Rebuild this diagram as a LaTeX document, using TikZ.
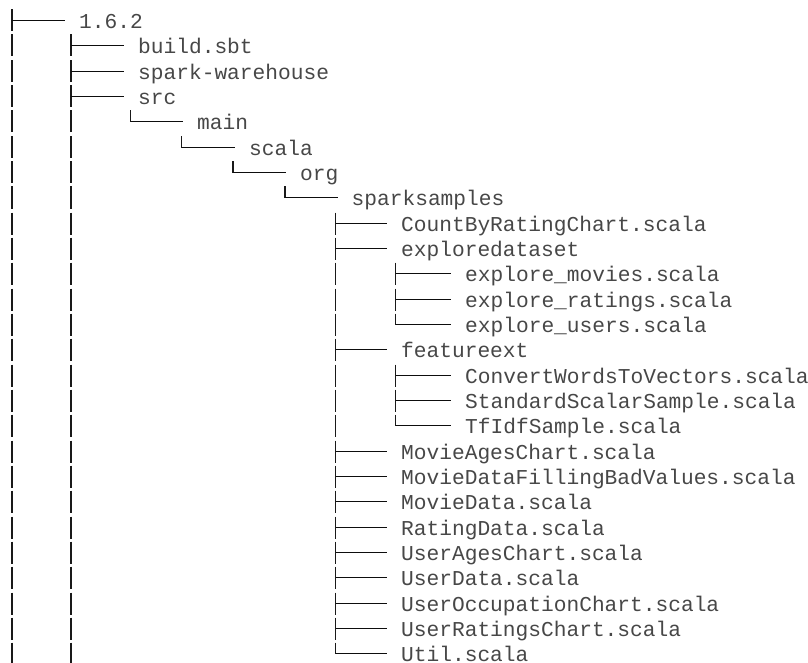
\documentclass[tikz,border=0pt]{standalone}
\usepackage{fontspec}
\newfontfamily\treefont{Liberation Mono}
\begin{document}
\begin{tikzpicture}[x=1pt,y=-1pt]
\tikzset{
  vl/.style={line width=1.8pt, draw=black!90},
  hl/.style={line width=1.6pt, draw=black!95},
  lbl/.style={anchor=base west, inner sep=0pt, text=black!72,
              font=\treefont\fontsize{21.2}{25}\selectfont},
}
\useasboundingbox (0,0) rectangle (808,663);
% continuing vertical bars (one glyph segment per row)
\foreach \k in {1,...,25}{
  \pgfmathsetmacro\yk{round(20+25.34*\k)+0.5}
  \draw[vl] (12,\yk-11) -- (12,\yk+11);
}
\foreach \k in {4,...,25}{
  \pgfmathsetmacro\yk{round(20+25.34*\k)+0.5}
  \draw[vl] (71,\yk-11) -- (71,\yk+11);
}
\foreach \k in {10,11,12,14,15,16}{
  \pgfmathsetmacro\yk{round(20+25.34*\k)+0.5}
  \draw[vl] (335.5,\yk-11) -- (335.5,\yk+11);
}
% rows: index / branch x / kind (t = tee, l = last) / text x / text
\foreach \k/\bx/\kind/\tx/\txt in {
  0/12/t/79/1.6.2,
  1/71/t/138/build.sbt,
  2/71/t/138/spark-warehouse,
  3/71/t/138/src,
  4/130.5/l/197/main,
  5/181.5/l/249/scala,
  6/233.3/l/300/org,
  7/285/l/351.5/sparksamples,
  8/335.5/t/401/CountByRatingChart.scala,
  9/335.5/t/401/exploredataset,
  10/395.5/t/465/explore\_movies.scala,
  11/395.5/t/465/explore\_ratings.scala,
  12/395.5/l/465/explore\_users.scala,
  13/335.5/t/401/featureext,
  14/395.5/t/465/ConvertWordsToVectors.scala,
  15/395.5/t/465/StandardScalarSample.scala,
  16/395.5/l/465/TfIdfSample.scala,
  17/335.5/t/401/MovieAgesChart.scala,
  18/335.5/t/401/MovieDataFillingBadValues.scala,
  19/335.5/t/401/MovieData.scala,
  20/335.5/t/401/RatingData.scala,
  21/335.5/t/401/UserAgesChart.scala,
  22/335.5/t/401/UserData.scala,
  23/335.5/t/401/UserOccupationChart.scala,
  24/335.5/t/401/UserRatingsChart.scala,
  25/335.5/l/401/Util.scala}{
  \pgfmathsetmacro\yk{round(20+25.34*\k)+0.5}
  \node[lbl] (n\k) at (\tx,\yk+8) {\txt};
  \coordinate (b\k) at (\bx,\yk);
  \if\kind t
    \draw[vl] (\bx,\yk-11) -- (\bx,\yk+11);
  \else
    \draw[vl] (\bx,\yk-11) -- (\bx,\yk+0.8);
  \fi
  \draw[hl] (b\k) -- ([xshift=-14pt,yshift=8pt]n\k.base west);
}
\end{tikzpicture}
\end{document}
